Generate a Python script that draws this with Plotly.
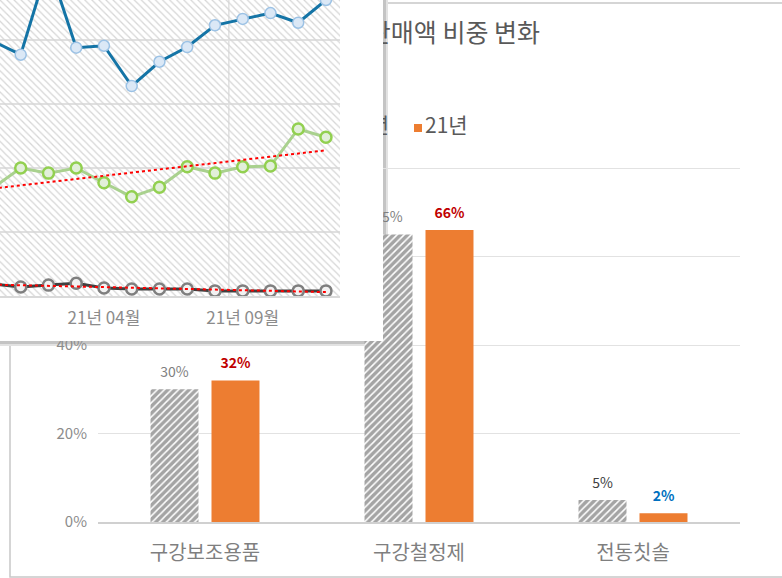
import numpy as np
import plotly.graph_objects as go

W, H = 782, 578

# ---------------- data: bar chart ----------------
categories = ["구강보조용품", "구강철정제", "전동칫솔"]
series_names = ["20년", "21년"]
share_20 = [30, 65, 5]
share_21 = [32, 66, 2]
bar_tickvals = [0, 20, 40, 60, 80]
bar_ticktext = ["0%", "20%", "40%", "60%", "80%"]
label_colors_20 = ["#7f7f7f", "#7f7f7f", "#404040"]
label_colors_21 = ["#c00000", "#c00000", "#0070c0"]
bar_title = "구강용품 품목별 판매액 비중 변화"

# ---------------- data: line chart ----------------
months = ["20년 12월", "21년 01월", "21년 02월", "21년 03월", "21년 04월", "21년 05월",
          "21년 06월", "21년 07월", "21년 08월", "21년 09월", "21년 10월", "21년 11월", "21년 12월"]
blue_vals = [39.8, 37.7, 51.9, 38.8, 39.1, 32.8, 36.6, 38.9, 42.3, 43.3, 44.2, 42.7, 46.25]
green_vals = [16.9, 20.0, 19.2, 20.0, 17.7, 15.5, 17.0, 20.2, 19.2, 20.2, 20.3, 26.1, 24.8]
dark_vals = [1.9, 1.4, 1.7, 2.0, 1.25, 1.1, 1.1, 1.1, 0.8, 0.8, 0.8, 0.8, 0.8]
line_tick_labels = ["21년 04월", "21년 09월"]
line_gridvals = [10, 20, 30, 40]
line_marker_gridval = 8.5

# ---------------- geometry ----------------
BX0, BX1 = 98, 740          # bar plot area (px)
BY0 = 522                   # 0% baseline (px)
PX_PER_PCT = 4.425
bar_xrange = [-0.5, 2.5]
bar_yrange = [0, BY0 / PX_PER_PCT]
BARGAP = 0.43
BARGROUPGAP = 0.213


def bx(px):
    return bar_xrange[0] + (px - BX0) / (BX1 - BX0) * (bar_xrange[1] - bar_xrange[0])


def by(py):
    return (BY0 - py) / PX_PER_PCT


PANEL_R, PANEL_B = 383, 341     # white overlay panel
LX1, LY1 = 340, 296             # line plot area
line_xrange = [0.254, 12.506]
line_yrange = [0, 46.25]

cat_idx = list(range(len(categories)))
off = (1 - BARGAP) / 4
ix = list(range(len(months)))

fig = go.Figure()

# ---- bar chart (subplot 1) ----
fig.add_trace(go.Bar(
    x=cat_idx, y=share_20, name=series_names[0],
    marker=dict(color="white", line=dict(width=0),
                pattern=dict(shape="/", fgcolor="#4a4a4a", bgcolor="white", size=5, solidity=0.7)),
    xaxis="x", yaxis="y", hoverinfo="skip"))
fig.add_trace(go.Bar(
    x=cat_idx, y=share_21, name=series_names[1],
    marker=dict(color="#ed7d31", line=dict(width=0)),
    xaxis="x", yaxis="y", hoverinfo="skip"))

fig.add_trace(go.Scatter(
    x=[i - off for i in cat_idx], y=share_20, mode="markers+text",
    text=[f"{v}%" for v in share_20], textposition="top center",
    textfont=dict(size=14, color=label_colors_20),
    marker=dict(size=12, color="rgba(0,0,0,0)"), cliponaxis=False,
    xaxis="x", yaxis="y", hoverinfo="skip"))
fig.add_trace(go.Scatter(
    x=[i + off for i in cat_idx], y=share_21, mode="markers+text",
    text=[f"<b>{v}%</b>" for v in share_21], textposition="top center",
    textfont=dict(size=14, color=label_colors_21),
    marker=dict(size=12, color="rgba(0,0,0,0)"), cliponaxis=False,
    xaxis="x", yaxis="y", hoverinfo="skip"))

# title (partly hidden by the overlay panel)
fig.add_trace(go.Scatter(
    x=[bx(540)], y=[by(36)], mode="text", text=[bar_title], textposition="middle left",
    textfont=dict(size=25, color="#595959"), cliponaxis=False,
    xaxis="x", yaxis="y", hoverinfo="skip"))
# legend (partly hidden)
fig.add_trace(go.Scatter(
    x=[bx(350), bx(418)], y=[by(128), by(128)], mode="markers",
    marker=dict(symbol="square", size=8, color=["#7f7f7f", "#ed7d31"]),
    cliponaxis=False, xaxis="x", yaxis="y", hoverinfo="skip"))
fig.add_trace(go.Scatter(
    x=[bx(389)], y=[by(128)], mode="text", text=[series_names[0]], textposition="middle left",
    textfont=dict(size=21, color="#595959"), cliponaxis=False,
    xaxis="x", yaxis="y", hoverinfo="skip"))
fig.add_trace(go.Scatter(
    x=[bx(425)], y=[by(128)], mode="text", text=[series_names[1]], textposition="middle right",
    textfont=dict(size=21, color="#595959"), cliponaxis=False,
    xaxis="x", yaxis="y", hoverinfo="skip"))

# ---- overlay panel (subplot 2) ----
fig.add_trace(go.Scatter(x=[0.5], y=[0.5], mode="markers", marker=dict(opacity=0),
                         xaxis="x2", yaxis="y2", hoverinfo="skip"))

# ---- line chart (subplot 3) ----
fig.add_trace(go.Scatter(
    x=[line_xrange[0], line_xrange[1], line_xrange[1], line_xrange[0], line_xrange[0]],
    y=[line_yrange[0], line_yrange[0], line_yrange[1], line_yrange[1], line_yrange[0]],
    mode="none", fill="toself", fillcolor="rgba(0,0,0,0)",
    fillpattern=dict(shape="\\", fgcolor="#d6d6d6", size=5, solidity=0.25, fillmode="replace"),
    xaxis="x3", yaxis="y3", hoverinfo="skip"))

fig.add_trace(go.Scatter(
    x=ix, y=blue_vals, mode="lines+markers",
    line=dict(color="#1474a6", width=3),
    marker=dict(size=11, color="#dbe8f6", line=dict(color="#9cc2e5", width=1.5)),
    xaxis="x3", yaxis="y3", hoverinfo="skip"))
fig.add_trace(go.Scatter(
    x=ix, y=green_vals, mode="lines+markers",
    line=dict(color="#a9d18e", width=3),
    marker=dict(size=11, color="#e2efda", line=dict(color="#92d050", width=2.5)),
    xaxis="x3", yaxis="y3", hoverinfo="skip"))
fig.add_trace(go.Scatter(
    x=ix, y=dark_vals, mode="lines+markers",
    line=dict(color="#404040", width=3),
    marker=dict(size=11, color="#f2f2f2", line=dict(color="#7f7f7f", width=2.5)),
    xaxis="x3", yaxis="y3", hoverinfo="skip"))

for vals in (green_vals, dark_vals):
    coef = np.polyfit(ix, vals, 1)
    fig.add_trace(go.Scatter(
        x=ix, y=np.polyval(coef, ix), mode="lines",
        line=dict(color="#ff0000", width=2, dash="dot"),
        xaxis="x3", yaxis="y3", hoverinfo="skip"))

shapes = [
    # card border of the bar chart
    dict(type="rect", xref="paper", yref="paper", x0=10 / W, x1=1.02, y0=(H - 577) / H, y1=(H - 3) / H,
         line=dict(color="#c8c8c8", width=1.5), fillcolor="rgba(0,0,0,0)", layer="below"),
    # panel shadow
    dict(type="rect", xref="paper", yref="paper", x0=-0.05, x1=(PANEL_R + 5) / W,
         y0=(H - PANEL_B - 5) / H, y1=1.05, line=dict(width=0), fillcolor="#e2e2e2", layer="below"),
    dict(type="rect", xref="paper", yref="paper", x0=-0.05, x1=(PANEL_R + 3) / W,
         y0=(H - PANEL_B - 3) / H, y1=1.05, line=dict(width=0), fillcolor="#c4c4c4", layer="below"),
    # vertical grid line in the line chart
    dict(type="line", xref="x3", yref="y3", x0=line_marker_gridval, x1=line_marker_gridval,
         y0=line_yrange[0], y1=line_yrange[1], line=dict(color="#e0e0e0", width=1.5), layer="below"),
]

fig.update_layout(
    width=W, height=H, margin=dict(l=0, r=0, t=0, b=0, autoexpand=False),
    paper_bgcolor="white", plot_bgcolor="white",
    font=dict(family="Noto Sans CJK KR", color="#7f7f7f"),
    showlegend=False, barmode="group", bargap=BARGAP, bargroupgap=BARGROUPGAP,
    shapes=shapes,
    xaxis=dict(domain=[BX0 / W, BX1 / W], range=bar_xrange, anchor="y", automargin=False,
               tickmode="array", tickvals=cat_idx, ticktext=categories,
               showgrid=False, zeroline=False, showline=True, linecolor="#d0d0d0", linewidth=1.5,
               ticks="", tickfont=dict(size=20, color="#7f7f7f"), ticklabelstandoff=12),
    yaxis=dict(domain=[(H - BY0) / H, 1], range=bar_yrange, anchor="x", automargin=False,
               tickmode="array", tickvals=bar_tickvals, ticktext=bar_ticktext,
               showgrid=True, gridcolor="#e2e2e2", gridwidth=1, zeroline=False, showline=False,
               ticks="", tickfont=dict(size=15, color="#8c8c8c"), ticklabelstandoff=10),
    xaxis2=dict(domain=[0, PANEL_R / W], range=[0, 1], anchor="y2", visible=False, automargin=False),
    yaxis2=dict(domain=[(H - PANEL_B) / H, 1], range=[0, 1], anchor="x2", visible=False, automargin=False),
    xaxis3=dict(domain=[0, LX1 / W], range=line_xrange, anchor="y3", automargin=False,
                tickmode="array", tickvals=[months.index(m) for m in line_tick_labels],
                ticktext=line_tick_labels, showgrid=False, zeroline=False,
                showline=True, linecolor="#d9d9d9", linewidth=2,
                ticks="", tickfont=dict(size=17, color="#8c8c8c"), ticklabelstandoff=6),
    yaxis3=dict(domain=[(H - LY1) / H, 1], range=line_yrange, anchor="x3", automargin=False,
                tickmode="array", tickvals=line_gridvals, showticklabels=False,
                showgrid=True, gridcolor="#e0e0e0", gridwidth=2, zeroline=False, showline=False),
)

fig.write_html("out.html", config={"displayModeBar": False},
               post_script="document.body.style.margin='0';document.body.style.overflow='hidden';")
